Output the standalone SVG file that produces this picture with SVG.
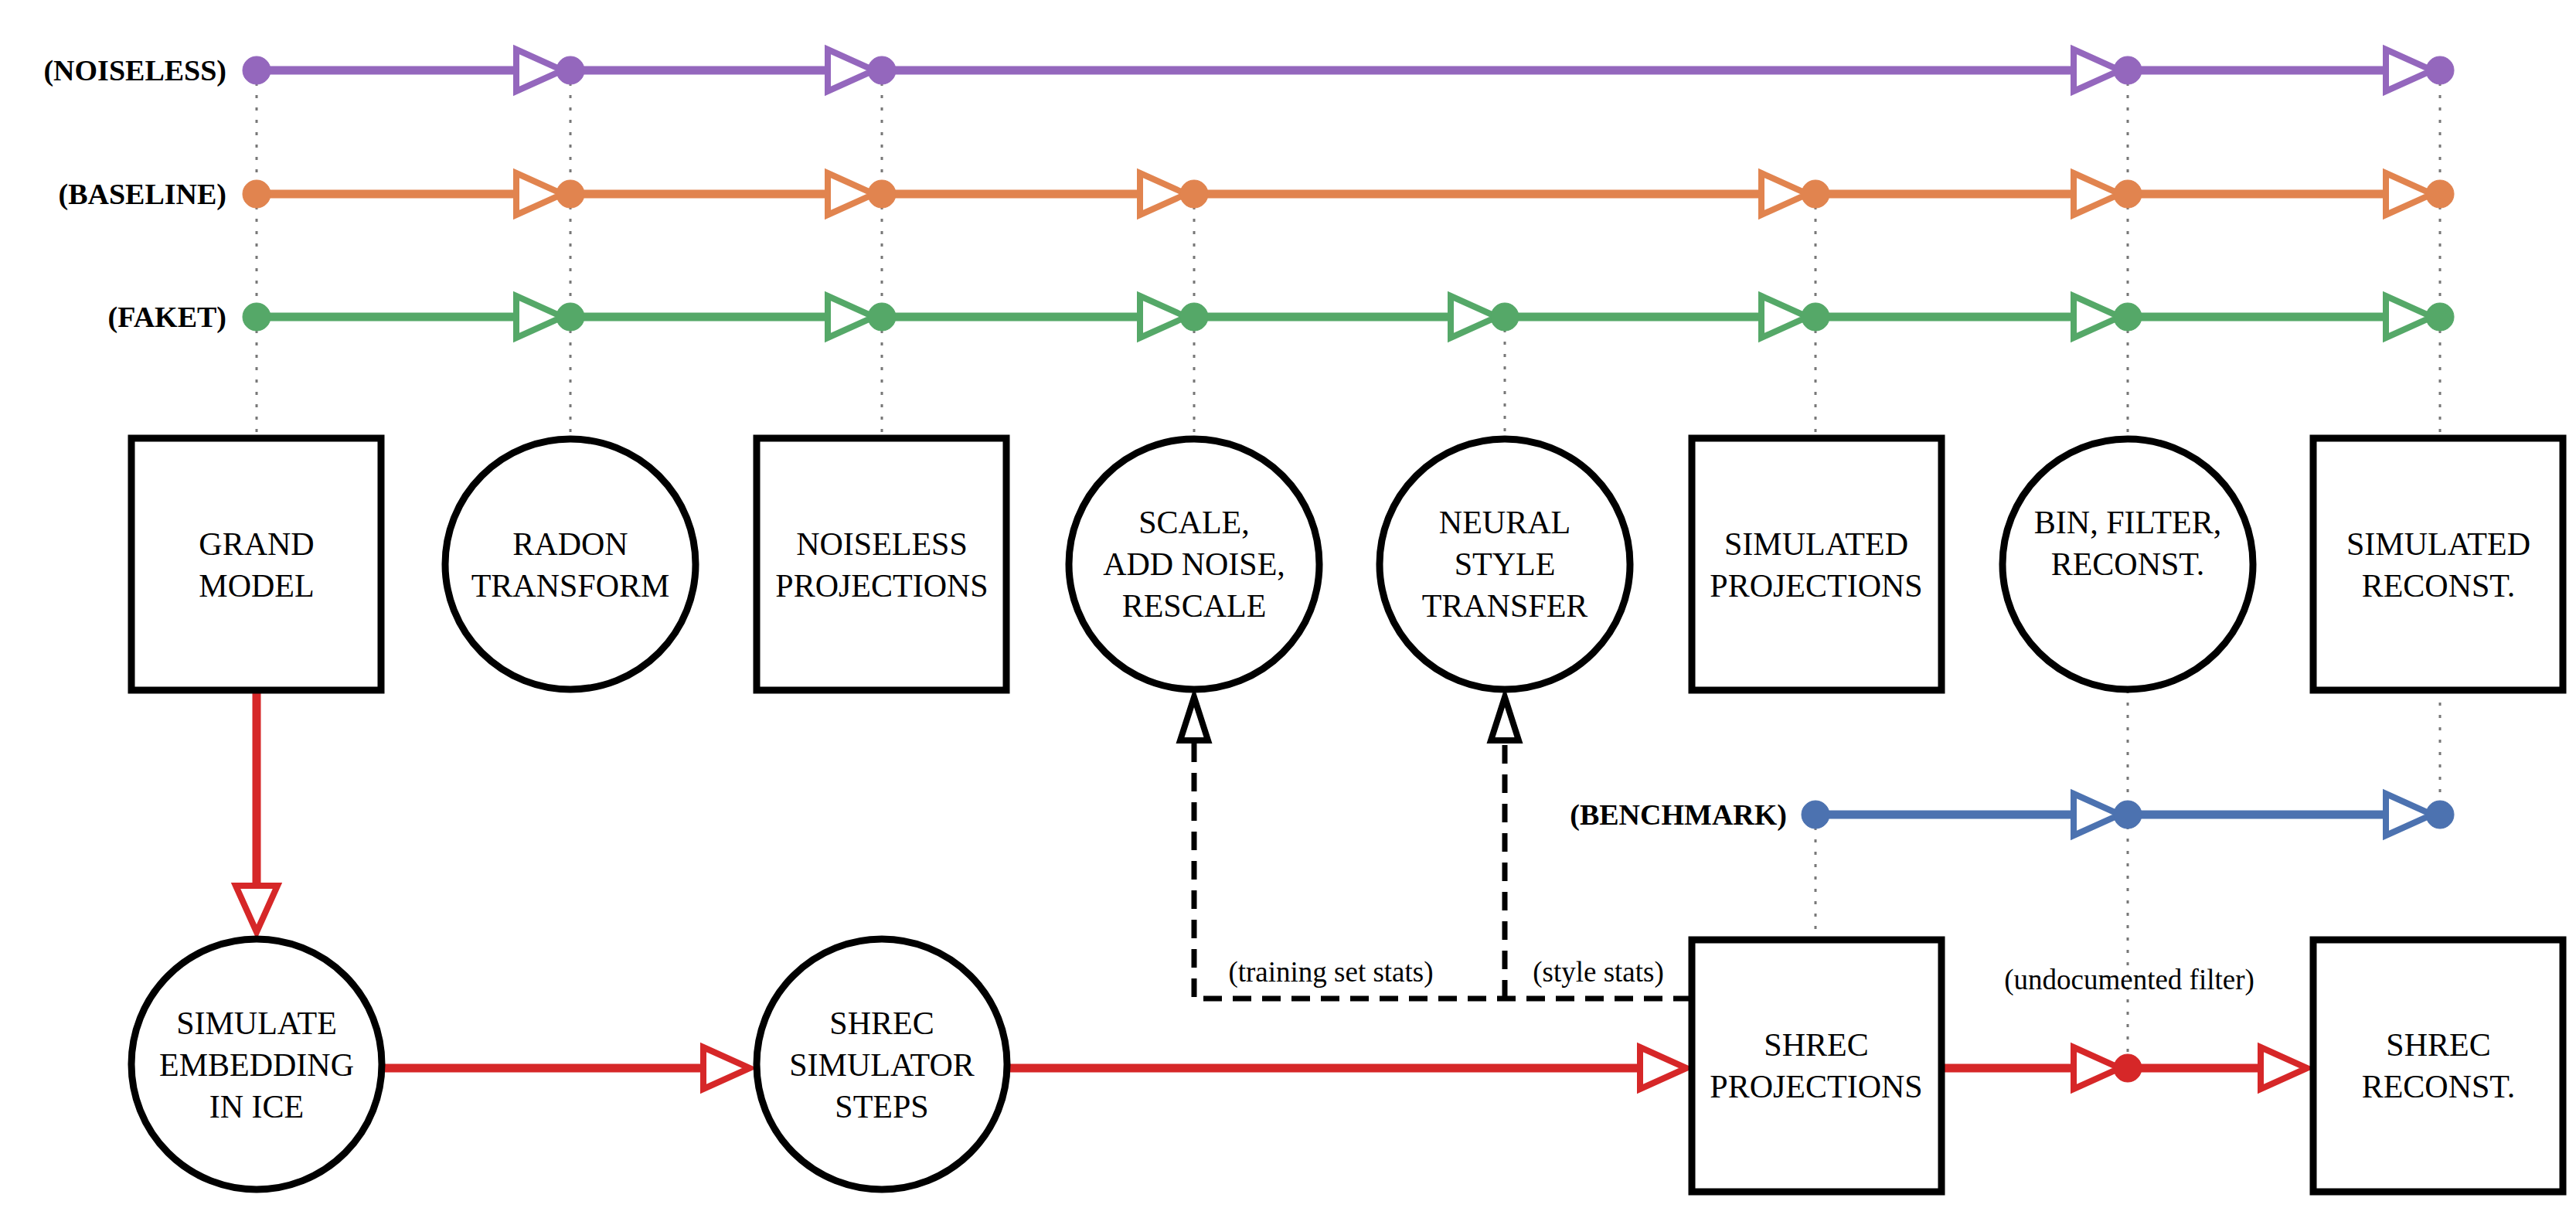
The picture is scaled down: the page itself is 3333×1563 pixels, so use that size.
<svg xmlns="http://www.w3.org/2000/svg" width="3333" height="1563" viewBox="0 0 3333 1563">
<style>
.node{fill:#fff;stroke:#000;stroke-width:9}
text{font-family:"Liberation Serif","Times New Roman","DejaVu Serif",serif}
.nt{font-size:42px;text-anchor:middle}
.rl{font-size:38px;font-weight:bold;text-anchor:end}
.el{font-size:37px;text-anchor:middle}
.dot{stroke:#777;stroke-width:3;stroke-dasharray:4 12;fill:none}
.ln{stroke-width:11;fill:none}
.tri{fill:#fff;stroke-width:8}
.p{stroke:#9467bd;fill:#9467bd}.o{stroke:#e1844f;fill:#e1844f}.g{stroke:#55a868;fill:#55a868}.b{stroke:#4c72b0;fill:#4c72b0}.r{stroke:#d62728;fill:#d62728}
.dash{stroke:#000;stroke-width:7;stroke-dasharray:24 14;fill:none}
</style>
<g id="guides">
<line class="dot" x1="332" y1="91" x2="332" y2="567"/>
<line class="dot" x1="738" y1="91" x2="738" y2="567"/>
<line class="dot" x1="1141" y1="91" x2="1141" y2="567"/>
<line class="dot" x1="1545" y1="251" x2="1545" y2="567"/>
<line class="dot" x1="1947" y1="410" x2="1947" y2="567"/>
<line class="dot" x1="2349" y1="251" x2="2349" y2="567"/>
<line class="dot" x1="2753" y1="91" x2="2753" y2="567"/>
<line class="dot" x1="3157" y1="91" x2="3157" y2="567"/>
<line class="dot" x1="2349" y1="1054" x2="2349" y2="1216"/>
<line class="dot" x1="2753" y1="893" x2="2753" y2="1382"/>
<line class="dot" x1="3157" y1="893" x2="3157" y2="1054"/>
</g>
<g id="connectors">
<line class="ln p" x1="332" y1="91" x2="3157" y2="91"/>
<line class="ln o" x1="332" y1="251" x2="3157" y2="251"/>
<line class="ln g" x1="332" y1="410" x2="3157" y2="410"/>
<line class="ln b" x1="2349" y1="1054" x2="3157" y2="1054"/>
<g class="p">
<polygon class="tri" points="668,64 728,91 668,118"/><polygon class="tri" points="1071,64 1131,91 1071,118"/><polygon class="tri" points="2683,64 2743,91 2683,118"/><polygon class="tri" points="3087,64 3147,91 3087,118"/>
<circle cx="332" cy="91" r="18"/><circle cx="738" cy="91" r="18"/><circle cx="1141" cy="91" r="18"/><circle cx="2753" cy="91" r="18"/><circle cx="3157" cy="91" r="18"/>
</g>
<g class="o">
<polygon class="tri" points="668,224 728,251 668,278"/><polygon class="tri" points="1071,224 1131,251 1071,278"/><polygon class="tri" points="1475,224 1535,251 1475,278"/><polygon class="tri" points="2279,224 2339,251 2279,278"/><polygon class="tri" points="2683,224 2743,251 2683,278"/><polygon class="tri" points="3087,224 3147,251 3087,278"/>
<circle cx="332" cy="251" r="18"/><circle cx="738" cy="251" r="18"/><circle cx="1141" cy="251" r="18"/><circle cx="1545" cy="251" r="18"/><circle cx="2349" cy="251" r="18"/><circle cx="2753" cy="251" r="18"/><circle cx="3157" cy="251" r="18"/>
</g>
<g class="g">
<polygon class="tri" points="668,383 728,410 668,437"/><polygon class="tri" points="1071,383 1131,410 1071,437"/><polygon class="tri" points="1475,383 1535,410 1475,437"/><polygon class="tri" points="1877,383 1937,410 1877,437"/><polygon class="tri" points="2279,383 2339,410 2279,437"/><polygon class="tri" points="2683,383 2743,410 2683,437"/><polygon class="tri" points="3087,383 3147,410 3087,437"/>
<circle cx="332" cy="410" r="18"/><circle cx="738" cy="410" r="18"/><circle cx="1141" cy="410" r="18"/><circle cx="1545" cy="410" r="18"/><circle cx="1947" cy="410" r="18"/><circle cx="2349" cy="410" r="18"/><circle cx="2753" cy="410" r="18"/><circle cx="3157" cy="410" r="18"/>
</g>
<g class="b">
<polygon class="tri" points="2683,1027 2743,1054 2683,1081"/><polygon class="tri" points="3087,1027 3147,1054 3087,1081"/>
<circle cx="2349" cy="1054" r="18"/><circle cx="2753" cy="1054" r="18"/><circle cx="3157" cy="1054" r="18"/>
</g>
<g class="r">
<line class="ln r" x1="332" y1="893" x2="332" y2="1150"/>
<polygon class="tri" points="305,1146 332,1206 359,1146"/>
<line class="ln r" x1="494" y1="1382" x2="910" y2="1382"/>
<polygon class="tri" points="910,1355 970,1382 910,1409"/>
<line class="ln r" x1="1303" y1="1382" x2="2122" y2="1382"/>
<polygon class="tri" points="2122,1355 2182,1382 2122,1409"/>
<line class="ln r" x1="2512" y1="1382" x2="2925" y2="1382"/>
<polygon class="tri" points="2683,1355 2743,1382 2683,1409"/>
<polygon class="tri" points="2925,1355 2985,1382 2925,1409"/>
<circle cx="2753" cy="1382" r="18"/>
</g>
<path class="dash" d="M2189,1292 H1545 V960"/>
<path class="dash" d="M1947,1292 V960"/>
<polygon points="1527,958 1545,902 1563,958" fill="#fff" stroke="#000" stroke-width="8"/>
<polygon points="1929,958 1947,902 1965,958" fill="#fff" stroke="#000" stroke-width="8"/>
<text class="el" x="1722" y="1270">(training set stats)</text>
<text class="el" x="2068" y="1270">(style stats)</text>
<text class="el" x="2755" y="1280">(undocumented filter)</text>
</g>
<g id="labels">
<text class="rl" x="293" y="104">(NOISELESS)</text>
<text class="rl" x="293" y="264">(BASELINE)</text>
<text class="rl" x="293" y="423">(FAKET)</text>
<text class="rl" x="2312" y="1067">(BENCHMARK)</text>
</g>
<g id="grand-model"><rect class="node" x="170" y="567" width="323" height="326"/><text class="nt" x="332" y="718">GRAND</text><text class="nt" x="332" y="772">MODEL</text></g>
<g id="radon"><circle class="node" cx="738" cy="730" r="162"/><text class="nt" x="738" y="718">RADON</text><text class="nt" x="738" y="772">TRANSFORM</text></g>
<g id="noiseless-proj"><rect class="node" x="979" y="567" width="323" height="326"/><text class="nt" x="1141" y="718">NOISELESS</text><text class="nt" x="1141" y="772">PROJECTIONS</text></g>
<g id="scale"><circle class="node" cx="1545" cy="730" r="162"/><text class="nt" x="1545" y="690">SCALE,</text><text class="nt" x="1545" y="744">ADD NOISE,</text><text class="nt" x="1545" y="798">RESCALE</text></g>
<g id="nst"><circle class="node" cx="1947" cy="730" r="162"/><text class="nt" x="1947" y="690">NEURAL</text><text class="nt" x="1947" y="744">STYLE</text><text class="nt" x="1947" y="798">TRANSFER</text></g>
<g id="sim-proj"><rect class="node" x="2189" y="567" width="323" height="326"/><text class="nt" x="2350" y="718">SIMULATED</text><text class="nt" x="2350" y="772">PROJECTIONS</text></g>
<g id="bin"><circle class="node" cx="2753" cy="730" r="162"/><text class="nt" x="2753" y="690">BIN, FILTER,</text><text class="nt" x="2753" y="744">RECONST.</text></g>
<g id="sim-reconst"><rect class="node" x="2993" y="567" width="323" height="326"/><text class="nt" x="3155" y="718">SIMULATED</text><text class="nt" x="3155" y="772">RECONST.</text></g>
<g id="embed"><circle class="node" cx="332" cy="1377" r="162"/><text class="nt" x="332" y="1338">SIMULATE</text><text class="nt" x="332" y="1392">EMBEDDING</text><text class="nt" x="332" y="1446">IN ICE</text></g>
<g id="shrec-sim"><circle class="node" cx="1141" cy="1377" r="162"/><text class="nt" x="1141" y="1338">SHREC</text><text class="nt" x="1141" y="1392">SIMULATOR</text><text class="nt" x="1141" y="1446">STEPS</text></g>
<g id="shrec-proj"><rect class="node" x="2189" y="1216" width="323" height="326"/><text class="nt" x="2350" y="1366">SHREC</text><text class="nt" x="2350" y="1420">PROJECTIONS</text></g>
<g id="shrec-reconst"><rect class="node" x="2993" y="1216" width="323" height="326"/><text class="nt" x="3155" y="1366">SHREC</text><text class="nt" x="3155" y="1420">RECONST.</text></g>
</svg>
